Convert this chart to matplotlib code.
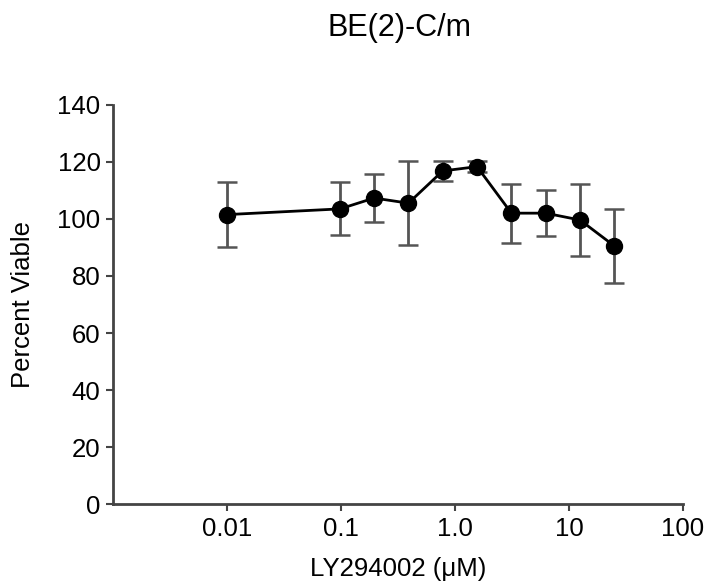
import numpy as np
import matplotlib
matplotlib.use("Agg")
import matplotlib.pyplot as plt
from matplotlib.ticker import FixedLocator, FixedFormatter, NullLocator

plt.rcParams['font.family'] = ['Liberation Sans', 'DejaVu Sans']

# LY294002 concentration (uM) and viability
conc = [0.01, 0.098, 0.195, 0.39, 0.78, 1.56, 3.125, 6.25, 12.5, 25]
viable = [101.5, 103.5, 107.3, 105.5, 116.8, 118.3, 102.0, 102.0, 99.6, 90.5]
err = [11.5, 9.3, 8.3, 14.7, 3.5, 2.0, 10.3, 8.0, 12.5, 12.8]

xticks = [0.01, 0.1, 1.0, 10, 100]
xlabels = ["0.01", "0.1", "1.0", "10", "100"]
yticks = [0, 20, 40, 60, 80, 100, 120, 140]

fig = plt.figure(figsize=(7.07, 5.85), dpi=100)
ax = fig.add_axes([0.160, 0.138, 0.806, 0.683])

ax.errorbar(conc, viable, yerr=err, color='black', ecolor='#555555',
            elinewidth=2, capsize=7, capthick=1.8, marker='o', markersize=11.5,
            linewidth=2, zorder=3)

ax.set_xscale('log')
ax.set_xlim(0.001, 100)
ax.set_ylim(0, 140)
ax.xaxis.set_major_locator(FixedLocator(xticks))
ax.xaxis.set_major_formatter(FixedFormatter(xlabels))
ax.xaxis.set_minor_locator(NullLocator())
ax.set_yticks(yticks)

for s in ['top', 'right']:
    ax.spines[s].set_visible(False)
for s in ['left', 'bottom']:
    ax.spines[s].set_linewidth(2)
    ax.spines[s].set_color('#444444')
    ax.spines[s].set_clip_on(False)

ax.tick_params(axis='both', direction='out', length=5, width=1.5,
               color='#444444', labelsize=18.5, pad=4)

ax.set_xlabel("LY294002 (\u03bcM)", fontsize=18.5, labelpad=12)
ax.set_ylabel("Percent Viable", fontsize=18.5, labelpad=16)
fig.text(0.565, 0.952, "BE(2)-C/m", fontsize=22, ha='center', va='center')

fig.savefig("out.png", dpi=100)
